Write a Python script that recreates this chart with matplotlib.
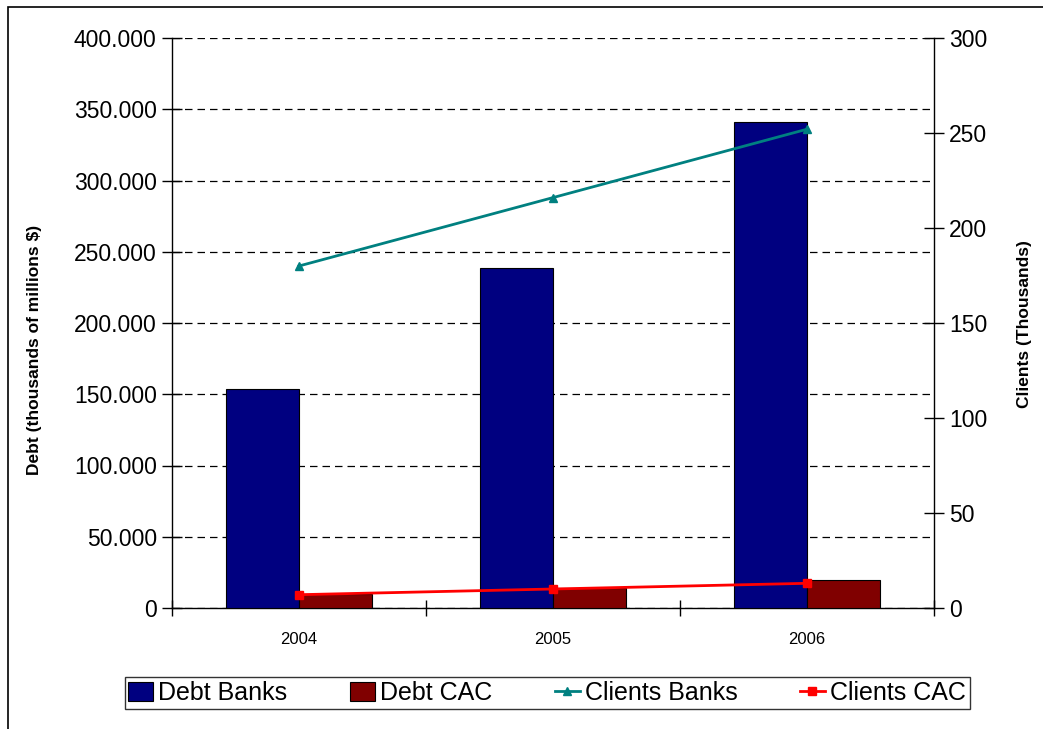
import matplotlib
matplotlib.use("Agg")
import matplotlib.pyplot as plt
import numpy as np
from matplotlib.patches import Patch, Rectangle
from matplotlib.lines import Line2D
from matplotlib.ticker import FuncFormatter, FixedLocator

plt.rcParams['font.family'] = ['Liberation Sans', 'DejaVu Sans']

# data
years = ['2004', '2005', '2006']
debt_banks = [153700, 238600, 341000]
debt_cac = [9800, 14000, 19600]
clients_banks = [180, 216, 252]
clients_cac = [7, 10, 13]

W, H = 1043, 729
fig = plt.figure(figsize=(W / 100, H / 100), dpi=100)
ax1 = fig.add_axes([172 / W, 1 - 608 / H, (934 - 172) / W, (608 - 38) / H])

x = np.arange(len(years))
bw = 0.287
ax1.bar(x - bw / 2, debt_banks, bw, color='#000080', edgecolor='black', linewidth=0.8, zorder=3)
ax1.bar(x + bw / 2, debt_cac, bw, color='#800000', edgecolor='black', linewidth=0.8, zorder=3)

ax1.set_xlim(-0.5, len(years) - 0.5)
ax1.set_ylim(0, 400000)
ax1.set_yticks(np.arange(0, 400001, 50000))
ax1.yaxis.set_major_formatter(FuncFormatter(lambda v, p: '0' if v == 0 else f'{int(v):,}'.replace(',', '.')))
ax1.yaxis.grid(True, linestyle=(0, (6, 4)), color='black', linewidth=0.9, zorder=0)
ax1.set_axisbelow(True)

# category boundary ticks, labels on minor ticks
ax1.xaxis.set_major_locator(FixedLocator(np.arange(-0.5, len(years), 1.0)))
ax1.xaxis.set_major_formatter(FuncFormatter(lambda v, p: ''))
ax1.xaxis.set_minor_locator(FixedLocator(x))
ax1.set_xticklabels(years, minor=True)
ax1.tick_params(axis='x', which='major', direction='inout', length=12, width=1)
ax1.tick_params(axis='x', which='minor', length=0, labelsize=12, pad=17)
ax1.tick_params(axis='y', direction='inout', length=14, width=1, labelsize=16.5, pad=4)

for s in ['top', 'right']:
    ax1.spines[s].set_visible(False)
ax1.spines['left'].set_linewidth(1)
ax1.spines['bottom'].set_linewidth(1)

ax2 = ax1.twinx()
ax2.plot(x, clients_banks, color='#008080', linewidth=2, marker='^', markersize=6, zorder=4)
ax2.plot(x, clients_cac, color='#FF0000', linewidth=2, marker='s', markersize=6, zorder=4)
ax2.set_ylim(0, 300)
ax2.set_yticks(np.arange(0, 301, 50))
ax2.tick_params(axis='y', direction='inout', length=14, width=1, labelsize=16.5, pad=4)
for s in ['top', 'left', 'bottom']:
    ax2.spines[s].set_visible(False)
ax2.spines['right'].set_linewidth(1)

fig.text(35 / W, 1 - 350 / H, 'Debt (thousands of millions $)', rotation=90,
         ha='center', va='center', fontsize=12.5, fontweight='bold')
fig.text(1025 / W, 1 - 324 / H, 'Clients (Thousands)', rotation=90,
         ha='center', va='center', fontsize=12.5, fontweight='bold')

handles = [
    Patch(facecolor='#000080', edgecolor='black', linewidth=0.8),
    Patch(facecolor='#800000', edgecolor='black', linewidth=0.8),
    Line2D([], [], color='#008080', linewidth=2, marker='^', markersize=6),
    Line2D([], [], color='#FF0000', linewidth=2, marker='s', markersize=6),
]
labels = ['Debt Banks', 'Debt CAC', 'Clients Banks', 'Clients CAC']
leg = fig.legend(handles, labels, loc='center', ncol=4, fontsize=18,
                 bbox_to_anchor=((120 + 974) / 2 / W, 1 - 693 / H),
                 frameon=True, fancybox=False, edgecolor='black',
                 handlelength=1.0, handleheight=0.8, handletextpad=0.2,
                 columnspacing=2.5, borderpad=0.15)
leg.get_frame().set_linewidth(1)

# outer chart border
fig.patches.append(Rectangle((8 / W, -0.1), 2, 1 - 7 / H + 0.1, transform=fig.transFigure,
                             fill=False, edgecolor='black', linewidth=1.2))

fig.savefig('out.png', dpi=100)
